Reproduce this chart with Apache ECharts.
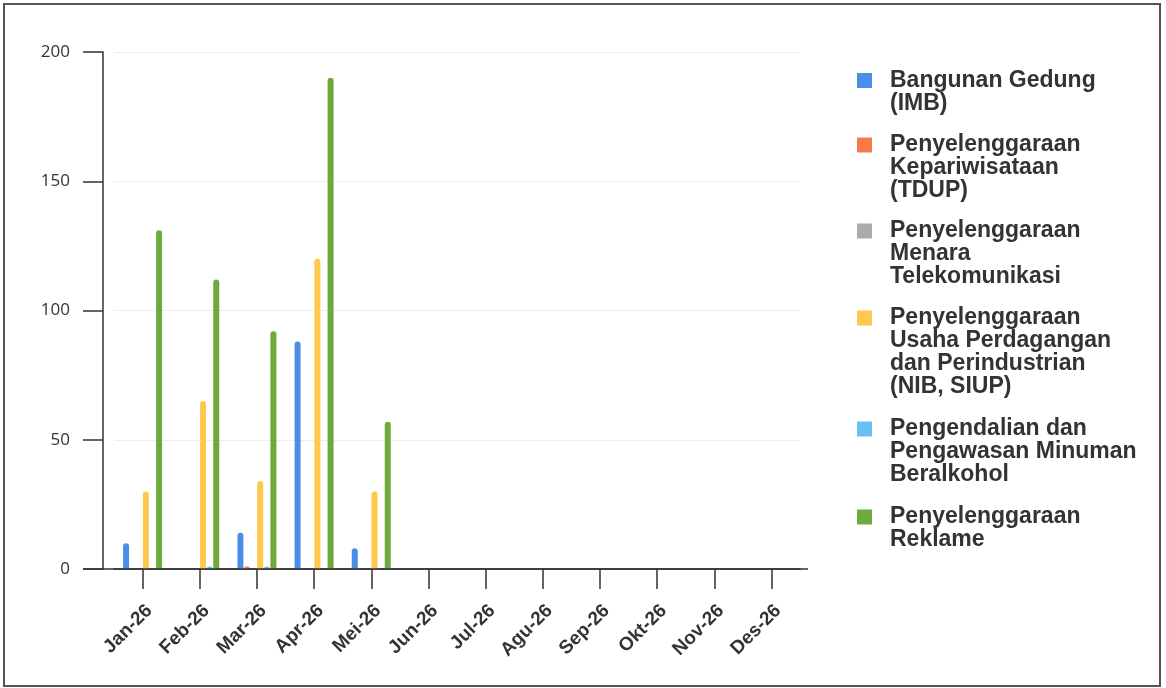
<!DOCTYPE html>
<html>
<head>
<meta charset="utf-8">
<script src="https://cdn.jsdelivr.net/npm/echarts@6/dist/echarts.min.js"></script>
<style>
html,body{margin:0;padding:0;background:#fff;}
#c{width:1166px;height:688px;}
</style>
</head>
<body>
<div id="c"></div>
<script>
const months = ['Jan-26','Feb-26','Mar-26','Apr-26','Mei-26','Jun-26','Jul-26','Agu-26','Sep-26','Okt-26','Nov-26','Des-26'];
const seriesNames = [
  'Bangunan Gedung (IMB)',
  'Penyelenggaraan Kepariwisataan (TDUP)',
  'Penyelenggaraan Menara Telekomunikasi',
  'Penyelenggaraan Usaha Perdagangan dan Perindustrian (NIB, SIUP)',
  'Pengendalian dan Pengawasan Minuman Beralkohol',
  'Penyelenggaraan Reklame'
];
const legendLines = [
  ['Bangunan Gedung','(IMB)'],
  ['Penyelenggaraan','Kepariwisataan','(TDUP)'],
  ['Penyelenggaraan','Menara','Telekomunikasi'],
  ['Penyelenggaraan','Usaha Perdagangan','dan Perindustrian','(NIB, SIUP)'],
  ['Pengendalian dan','Pengawasan Minuman','Beralkohol'],
  ['Penyelenggaraan','Reklame']
];
const imb      = [10, 0, 14, 88, 8, null, null, null, null, null, null, null];
const tdup     = [0, 0, 1, 0, 0, null, null, null, null, null, null, null];
const menara   = [0, 0, 0, 0, 0, null, null, null, null, null, null, null];
const nibSiup  = [30, 65, 34, 120, 30, null, null, null, null, null, null, null];
const minuman  = [0, 1, 1, 0, 0, null, null, null, null, null, null, null];
const reklame  = [131, 112, 92, 190, 57, null, null, null, null, null, null, null];
const yTicks = [0, 50, 100, 150, 200];

const values = [imb, tdup, menara, nibSiup, minuman, reklame];
const colors = ['#4A8FE6', '#F47B45', '#ABABAB', '#FFC94F', '#66C0F4', '#6DAA3E'];

const L = 23;
const legendCenters = [80.5, 145, 231, 318, 429, 517];
const legends = seriesNames.map((name, i) => {
  const n = legendLines[i].length;
  // leading blank lines keep the first text line level with the icon
  const txt = '\n'.repeat(n - 1) + legendLines[i].join('\n');
  return {
    orient: 'vertical',
    left: 857,
    top: legendCenters[i] - (2 * n - 1) * L / 2,
    padding: 0,
    itemWidth: 15,
    itemHeight: 15,
    itemGap: 0,
    icon: 'rect',
    selectedMode: false,
    data: [name],
    formatter: () => txt,
    textStyle: {
      fontFamily: '"Liberation Sans", Arial, sans-serif',
      fontWeight: 'bold',
      fontSize: 23,
      lineHeight: L,
      color: '#333',
      padding: [0, 0, 0, 13]
    }
  };
});

const chart = echarts.init(document.getElementById('c'), null, { renderer: 'canvas' });
const option = {
  animation: false,
  backgroundColor: '#fff',
  color: colors,
  grid: { left: 114, right: 366, top: 52, bottom: 119, containLabel: false },
  legend: legends,
  xAxis: {
    type: 'category',
    data: months,
    boundaryGap: true,
    axisLine: { show: true, lineStyle: { color: '#333', width: 1.5 } },
    axisTick: { show: true, alignWithLabel: true, length: 20, lineStyle: { color: '#333', width: 1.5 } },
    axisLabel: {
      rotate: 45,
      interval: 0,
      margin: 32,
      align: 'right',
      verticalAlign: 'top',
      color: '#333',
      fontFamily: '"Liberation Sans", Arial, sans-serif',
      fontWeight: 'bold',
      fontSize: 19
    },
    splitLine: { show: false }
  },
  yAxis: {
    type: 'value',
    min: 0,
    max: 200,
    interval: 50,
    offset: 11,
    axisLine: { show: true, lineStyle: { color: '#333', width: 1.5 } },
    axisTick: { show: true, length: 20, lineStyle: { color: '#333', width: 1.5 } },
    axisLabel: {
      margin: 33,
      color: '#333',
      fontFamily: '"Open Sans", sans-serif',
      fontSize: 17,
      formatter: (v) => yTicks.includes(v) ? String(v) : ''
    },
    splitLine: { show: true, lineStyle: { color: '#ededed', width: 1 } }
  },
  series: values.map((arr, i) => ({
    name: seriesNames[i],
    type: 'bar',
    data: arr,
    barWidth: 6,
    barGap: '10%',
    itemStyle: { color: colors[i], borderRadius: [3, 3, 0, 0] }
  })),
  graphic: [
    {
      type: 'rect',
      shape: { x: 4, y: 4, width: 1156, height: 682 },
      style: { fill: 'none', stroke: '#555', lineWidth: 2 },
      silent: true,
      z: 100
    }
  ]
};
chart.setOption(option);

// extend the zero line left to the tick end and slightly right, like the original
const y0 = chart.convertToPixel({ yAxisIndex: 0 }, 0);
const xStart = chart.convertToPixel({ xAxisIndex: 0 }, months[0]);
const xEnd = chart.convertToPixel({ xAxisIndex: 0 }, months[months.length - 1]);
const half = (xEnd - xStart) / (months.length - 1) / 2;
chart.setOption({
  graphic: [
    option.graphic[0],
    {
      type: 'line',
      shape: { x1: xStart - half - 11 - 20, y1: y0, x2: xEnd + half + 8, y2: y0 },
      style: { stroke: '#333', lineWidth: 1.5 },
      silent: true,
      z: 5
    }
  ]
});
</script>
</body>
</html>
